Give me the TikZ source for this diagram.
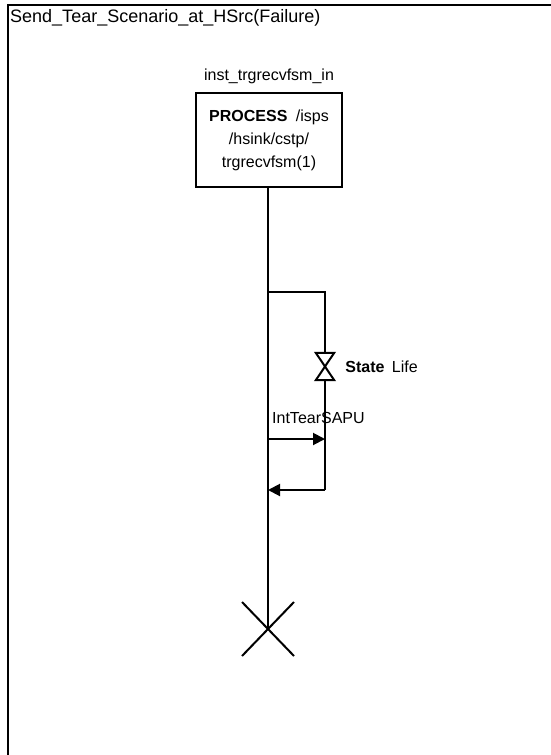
\documentclass[tikz,border=0pt]{standalone}
\usepackage{fontspec}
\setmainfont{Liberation Sans}
\usetikzlibrary{
    arrows.meta,
    positioning,
    calc
}
\tikzset{
    % Base style for all texts
    msc base/.style={
        font=\fontsize{16}{23}\selectfont,
        inner sep=0pt,
        text=black,
    },
    % Diagram frame
    frame/.style={
        line width=2pt,
    },
    % Process instance box
    instance/.style={
        msc base,
        rectangle,
        draw,
        line width=2pt,
        minimum width=146pt,
        minimum height=94pt,
        align=center,
    },
    % Lifeline of the instance
    lifeline/.style={
        line width=2pt,
    },
    % Message arrow with filled head
    message/.style={
        line width=2pt,
        -{Triangle[length=12pt, width=12pt]},
    },
    % State symbol (hourglass)
    statesym/.style={
        minimum width=18pt,
        minimum height=27pt,
        inner sep=0pt,
    },
    % Stop symbol
    stopsym/.style={
        line width=2pt,
    },
}

\begin{document}
\begin{tikzpicture}[x=1pt, y=-1pt]
    \useasboundingbox (0,0) rectangle (551,755);

    % frame and title
    \draw [frame] (8,755) -- (8,5) -- (551,5);
    \node (title) [msc base, font=\fontsize{18}{20}\selectfont, anchor=north west] at (10,9) {Send\_Tear\_Scenario\_at\_HSrc(Failure)};

    % instance
    \node (proc) [instance] at (269,140) {\textbf{PROCESS}\hspace{4pt} /isps\\/hsink/cstp/\\trgrecvfsm(1)};
    \node (inst) [msc base, above=8pt of proc] {inst\_trgrecvfsm\_in};
    \coordinate (stop) at (268,629);
    \draw [lifeline] (proc.south -| stop) -- (stop);

    % loop with state
    \coordinate (loopstart) at (268,292);
    \coordinate (looptop) at (325,292);
    \node (state) [statesym] at (325,366.5) {};
    \coordinate (msgstart) at (268,439);
    \coordinate (msgend) at (325,439);
    \coordinate (loopbot) at (325,490);
    \coordinate (loopend) at (268,490);

    \draw [lifeline] (loopstart) -- (looptop) -- (state.north);
    \draw [lifeline, fill=white] (state.north west) -- (state.north east) -- (state.south west) -- (state.south east) -- cycle;
    \draw [lifeline] (state.south) -- (loopbot);
    \node (statelbl) [msc base, anchor=west] at ($(state.east)+(11,0)$) {\textbf{State}\hspace{3pt} Life};

    \draw [message] (msgstart) -- (msgend);
    \node (msglbl) [msc base, anchor=south west] at ($(msgstart)+(4,-15)$) {IntTearSAPU};
    \draw [message] (loopbot) -- (loopend);

    % stop
    \draw [stopsym] ($(stop)+(-26,-27)$) -- ($(stop)+(26,27)$);
    \draw [stopsym] ($(stop)+(-26,27)$) -- ($(stop)+(26,-27)$);
\end{tikzpicture}
\end{document}
